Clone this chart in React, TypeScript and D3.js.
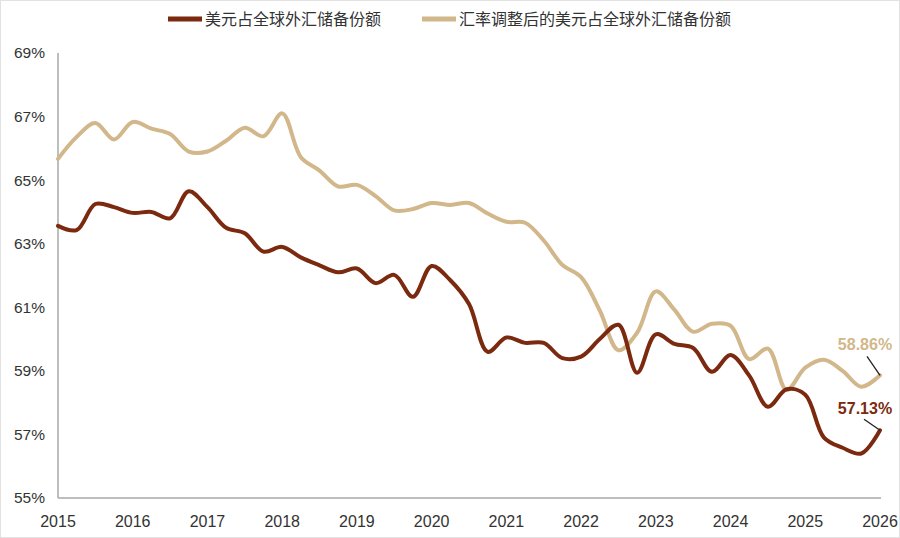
import React, { useEffect, useRef } from "react";
import * as d3 from "d3";

// 季度序列，2015Q1 起
const years = [2015, 2016, 2017, 2018, 2019, 2020, 2021, 2022, 2023, 2024, 2025, 2026];
const yTicks = [55, 57, 59, 61, 63, 65, 67, 69];

const usdShare = [
  63.56, 63.43, 64.25, 64.15, 63.97, 64.0, 63.8, 64.65, 64.15, 63.5,
  63.33, 62.75, 62.9, 62.57, 62.32, 62.1, 62.22, 61.76, 62.02, 61.33,
  62.3, 61.85, 61.1, 59.6, 60.05, 59.88, 59.88, 59.4, 59.45, 60.0,
  60.45, 58.94, 60.15, 59.85, 59.72, 58.97, 59.5, 58.85, 57.87, 58.42,
  58.25, 56.9, 56.58, 56.4, 57.13,
];

const usdShareAdj = [
  65.67, 66.36, 66.8, 66.28, 66.83, 66.62, 66.45, 65.9, 65.9, 66.24,
  66.65, 66.38, 67.1, 65.72, 65.3, 64.8, 64.85, 64.5, 64.05, 64.09,
  64.28, 64.22, 64.28, 63.95, 63.69, 63.66, 63.1, 62.33, 61.95, 60.9,
  59.65, 60.2, 61.5, 60.92, 60.23, 60.48, 60.42, 59.37, 59.7, 58.4,
  59.1, 59.35, 59.0, 58.5, 58.86,
];

const seriesNames = ["美元占全球外汇储备份额", "汇率调整后的美元占全球外汇储备份额"];
const seriesColors = ["#7b2a0f", "#d2b78b"];

const W = 900;
const H = 538;
const font = "'Liberation Sans', Arial, sans-serif";

const App: React.FC = () => {
  const svgRef = useRef<SVGSVGElement | null>(null);

  useEffect(() => {
    const svg = d3.select(svgRef.current);
    svg.selectAll("*").remove();

    const left = 58, right = 880, top = 53, bottom = 498;

    const x = d3.scaleLinear().domain([2015, 2026]).range([left, right]);
    const y = d3.scaleLinear().domain([55, 69]).range([bottom, top]);
    const tOf = (i: number) => 2015 + i / 4;

    svg.append("rect")
      .attr("x", 0.5).attr("y", 0.5)
      .attr("width", W - 1).attr("height", H - 1)
      .attr("fill", "#fff").attr("stroke", "#e2e2e2");

    // 轴线
    svg.append("line")
      .attr("x1", left).attr("x2", left).attr("y1", top).attr("y2", bottom)
      .attr("stroke", "#a8a8a8").attr("stroke-width", 1.5);
    svg.append("line")
      .attr("x1", left).attr("x2", right + 1).attr("y1", bottom).attr("y2", bottom)
      .attr("stroke", "#a8a8a8").attr("stroke-width", 1.5);

    svg.append("g").selectAll("text")
      .data(yTicks).enter().append("text")
      .attr("x", 45).attr("y", d => y(d))
      .attr("dy", "0.35em")
      .attr("text-anchor", "end")
      .attr("font-family", font).attr("font-size", 15.5)
      .attr("fill", "#333")
      .text(d => `${d}%`);

    svg.append("g").selectAll("text")
      .data(years).enter().append("text")
      .attr("x", d => x(d)).attr("y", 521)
      .attr("dy", "0.35em")
      .attr("text-anchor", "middle")
      .attr("font-family", font).attr("font-size", 16)
      .attr("fill", "#333")
      .text(d => `${d}`);

    const line = d3.line<number>()
      .x((_, i) => x(tOf(i)))
      .y(d => y(d))
      .curve(d3.curveCatmullRom.alpha(0.5));

    [usdShareAdj, usdShare].forEach((s, k) => {
      svg.append("path")
        .attr("d", line(s) as string)
        .attr("fill", "none")
        .attr("stroke", seriesColors[1 - k])
        .attr("stroke-width", 4)
        .attr("stroke-linejoin", "round")
        .attr("stroke-linecap", "round");
    });

    // 末值标注
    const ends = [
      { v: usdShareAdj[usdShareAdj.length - 1], color: seriesColors[1], dx: -13, dy: -19, ly: -31 },
      { v: usdShare[usdShare.length - 1], color: seriesColors[0], dx: -16, dy: -11, ly: -22 },
    ];
    ends.forEach(e => {
      const ex = x(tOf(usdShare.length - 1));
      const ey = y(e.v);
      svg.append("line")
        .attr("x1", ex).attr("y1", ey)
        .attr("x2", ex + e.dx).attr("y2", ey + e.dy)
        .attr("stroke", "#222").attr("stroke-width", 1.3);
      svg.append("text")
        .attr("x", 865).attr("y", ey + e.ly)
        .attr("dy", "0.35em")
        .attr("text-anchor", "middle")
        .attr("font-family", font).attr("font-size", 16).attr("font-weight", "bold")
        .attr("fill", e.color)
        .text(`${e.v.toFixed(2)}%`);
    });

    // 图例
    const legend = [
      { x: 168, tx: 205 },
      { x: 422, tx: 459 },
    ];
    legend.forEach((l, i) => {
      svg.append("line")
        .attr("x1", l.x).attr("x2", l.x + 34).attr("y1", 19).attr("y2", 19)
        .attr("stroke", seriesColors[i]).attr("stroke-width", 5);
      svg.append("text")
        .attr("x", l.tx).attr("y", 19).attr("dy", "0.35em")
        .attr("font-family", "'Noto Sans CJK SC', sans-serif").attr("font-size", 16)
        .attr("fill", "#333")
        .text(seriesNames[i]);
    });
  }, []);

  return (
    <svg
      ref={svgRef}
      width={W}
      height={H}
      style={{ position: "absolute", left: 0, top: 0 }}
    />
  );
};

export default App;
